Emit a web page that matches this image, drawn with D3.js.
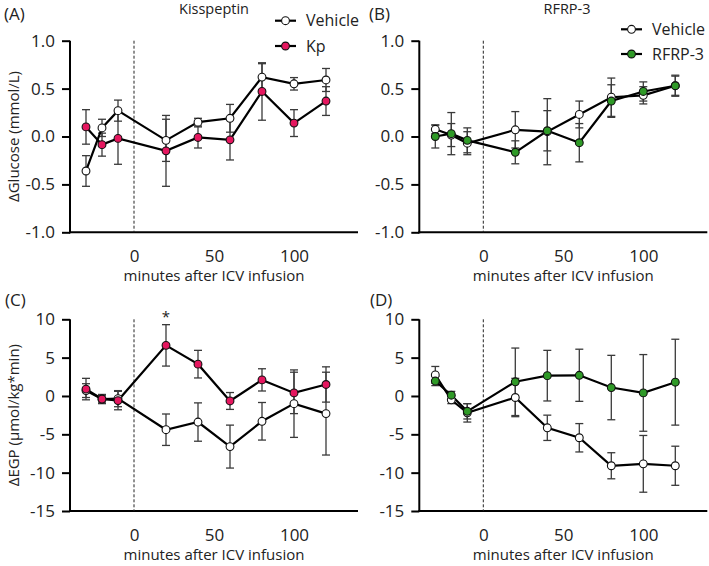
<!DOCTYPE html>
<html>
<head>
<meta charset="utf-8">
<script src="https://cdn.jsdelivr.net/npm/d3@7"></script>
<style>
  html, body { margin: 0; padding: 0; background: #fff; }
  svg { display: block; font-family: "Open Sans", "Noto Sans", sans-serif; }
</style>
</head>
<body>
<svg id="chart" width="709" height="566"></svg>
<script>
// ---------- data ----------
const times = [-30, -20, -10, 20, 40, 60, 80, 100, 120];

// (A) Kisspeptin – ΔGlucose (mmol/L)
const vehicleGlucoseA    = [-0.36, 0.09, 0.27, -0.04, 0.15, 0.19, 0.62, 0.55, 0.59];
const vehicleGlucoseAErr = [0.16, 0.09, 0.11, 0.22, 0.04, 0.145, 0.14, 0.065, 0.12];
const kpGlucose          = [0.10, -0.085, -0.02, -0.15, -0.01, -0.035, 0.47, 0.14, 0.37];
const kpGlucoseErr       = [0.18, 0.12, 0.27, 0.37, 0.11, 0.21, 0.30, 0.14, 0.15];

// (B) RFRP-3 – ΔGlucose (mmol/L)
const vehicleGlucoseB    = [0.075, 0.015, -0.07, 0.07, 0.05, 0.23, 0.41, 0.43, 0.53];
const vehicleGlucoseBErr = [0.045, 0.12, 0.12, 0.19, 0.345, 0.14, 0.20, 0.09, 0.11];
const rfrpGlucose        = [0.0, 0.03, -0.04, -0.165, 0.06, -0.065, 0.37, 0.47, 0.53];
const rfrpGlucoseErr     = [0.12, 0.22, 0.13, 0.12, 0.21, 0.20, 0.17, 0.10, 0.10];

// (C) Kisspeptin – ΔEGP (µmol/kg*min)
const vehicleEgpC    = [0.7, -0.4, -0.35, -4.4, -3.4, -6.6, -3.3, -1.0, -2.3];
const vehicleEgpCErr = [0.9, 0.6, 1.05, 2.05, 2.5, 2.8, 2.45, 4.4, 5.4];
const kpEgp          = [0.9, -0.4, -0.6, 6.6, 4.15, -0.65, 2.1, 0.4, 1.5];
const kpEgpErr       = [1.4, 0.5, 1.2, 2.7, 1.8, 1.1, 1.45, 2.7, 2.3];

// (D) RFRP-3 – ΔEGP (µmol/kg*min)
const vehicleEgpD    = [2.75, -0.5, -2.2, -0.2, -4.15, -5.45, -9.1, -8.85, -9.1];
const vehicleEgpDErr = [1.1, 0.5, 1.2, 2.5, 1.65, 1.85, 1.7, 3.7, 2.55];
const rfrpEgp        = [1.95, 0.1, -2.0, 1.85, 2.65, 2.7, 1.1, 0.4, 1.8];
const rfrpEgpErr     = [0.6, 0.5, 1.0, 4.4, 3.3, 3.4, 4.2, 5.0, 5.6];

const xTicks = [0, 50, 100];
const glucoseTicks = [-1.0, -0.5, 0.0, 0.5, 1.0];
const egpTicks = [-15, -10, -5, 0, 5, 10];

const KP_COLOR = "#e5175f";
const RFRP_COLOR = "#2f9a27";

// ---------- drawing ----------
const svg = d3.select("#chart");

function drawPanel(opt) {
  const g = svg.append("g");
  const x = d3.scaleLinear().domain([-40, 140]).range([opt.left, opt.left + 288]);
  const y = d3.scaleLinear().domain(opt.yDomain).range([opt.bottom, opt.top]);

  // y axis
  const yAxis = d3.axisLeft(y).tickValues(opt.yTicks).tickSize(8).tickPadding(7)
    .tickFormat(opt.yFormat);
  const ya = g.append("g").attr("transform", `translate(${opt.left},0)`).call(yAxis);
  ya.select(".domain").attr("stroke", "#000").attr("stroke-width", 2)
    .attr("d", `M0,${opt.top}V${opt.bottom + 1}`);
  ya.selectAll(".tick line").attr("stroke", "#000").attr("stroke-width", 2);
  ya.selectAll(".tick text").attr("font-size", 17).attr("fill", "#222")
    .attr("font-family", "Open Sans");

  // x axis
  const xAxis = d3.axisBottom(x).tickValues(xTicks).tickSize(0).tickPadding(18);
  const xa = g.append("g").attr("transform", `translate(0,${opt.bottom})`).call(xAxis);
  xa.select(".domain").attr("stroke", "#000").attr("stroke-width", 2)
    .attr("d", `M${opt.left - 1},0H${opt.left + 288}`);
  xa.selectAll(".tick text").attr("font-size", 17).attr("fill", "#222")
    .attr("font-family", "Open Sans");

  // x title
  g.append("text").attr("x", x(50)).attr("y", opt.bottom + 49)
    .attr("text-anchor", "middle").attr("font-size", 15).attr("fill", "#222")
    .text("minutes after ICV infusion");

  // dashed line at 0
  g.append("line").attr("x1", x(0)).attr("x2", x(0))
    .attr("y1", opt.top).attr("y2", opt.bottom)
    .attr("stroke", "#222").attr("stroke-width", 1).attr("stroke-dasharray", "3,2");

  const series = [
    { vals: opt.veh, errs: opt.vehErr, fill: "#fff" },
    { vals: opt.trt, errs: opt.trtErr, fill: opt.color }
  ];

  // error bars
  series.forEach(s => {
    const eg = g.append("g").attr("stroke", "#3a3a3a").attr("stroke-width", 1.3);
    times.forEach((t, i) => {
      const cx = x(t), hi = y(s.vals[i] + s.errs[i]), lo = y(s.vals[i] - s.errs[i]);
      eg.append("line").attr("x1", cx).attr("x2", cx).attr("y1", hi).attr("y2", lo);
      eg.append("line").attr("x1", cx - 4).attr("x2", cx + 4).attr("y1", hi).attr("y2", hi);
      eg.append("line").attr("x1", cx - 4).attr("x2", cx + 4).attr("y1", lo).attr("y2", lo);
    });
  });

  // lines
  const line = d3.line().x((d, i) => x(times[i])).y(d => y(d));
  series.forEach(s => {
    g.append("path").datum(s.vals).attr("d", line)
      .attr("fill", "none").attr("stroke", "#000").attr("stroke-width", 2.2)
      .attr("stroke-linejoin", "miter");
  });

  // markers
  series.forEach(s => {
    g.selectAll(null).data(s.vals).enter().append("circle")
      .attr("cx", (d, i) => x(times[i])).attr("cy", d => y(d)).attr("r", 3.9)
      .attr("fill", s.fill).attr("stroke", "#111").attr("stroke-width", 1.1);
  });

  // panel label
  g.append("text").attr("x", opt.labelX).attr("y", opt.labelY)
    .attr("font-size", 17).attr("fill", "#222").text(opt.label);

  // title
  if (opt.title) {
    g.append("text").attr("x", opt.titleX).attr("y", 14)
      .attr("text-anchor", "middle").attr("font-size", 14.5).attr("fill", "#222")
      .text(opt.title);
  }

  // legend
  if (opt.legend) {
    const L = opt.legend;
    const items = [
      { name: "Vehicle", fill: "#fff", y: L.y1 },
      { name: opt.trtName, fill: opt.color, y: L.y2 }
    ];
    items.forEach(it => {
      g.append("line").attr("x1", L.x).attr("x2", L.x + 21)
        .attr("y1", it.y).attr("y2", it.y).attr("stroke", "#000").attr("stroke-width", 2.2);
      g.append("circle").attr("cx", L.x + 10.5).attr("cy", it.y).attr("r", 3.9)
        .attr("fill", it.fill).attr("stroke", "#111").attr("stroke-width", 1.1);
      g.append("text").attr("x", L.x + 31).attr("y", it.y).attr("dy", "0.35em")
        .attr("font-size", 16).attr("fill", "#222").text(it.name);
    });
  }

  // star
  if (opt.star) {
    g.append("text").attr("x", x(opt.star)).attr("y", opt.top + 3)
      .attr("text-anchor", "middle").attr("font-size", 15).attr("fill", "#222").text("*");
  }

  // y title
  if (opt.yTitle) {
    g.append("text")
      .attr("transform", `translate(19,${(opt.top + opt.bottom) / 2}) rotate(-90)`)
      .attr("text-anchor", "middle").attr("font-size", 15).attr("fill", "#222")
      .text(opt.yTitle);
  }
}

const fmt1 = d => d.toFixed(1);
const fmt0 = d => String(d);

drawPanel({
  left: 70, top: 40.7, bottom: 232.3, yDomain: [-1, 1], yTicks: glucoseTicks, yFormat: fmt1,
  veh: vehicleGlucoseA, vehErr: vehicleGlucoseAErr, trt: kpGlucose, trtErr: kpGlucoseErr,
  color: KP_COLOR, trtName: "Kp", label: "(A)", labelX: 4, labelY: 20,
  title: "Kisspeptin", titleX: 214, legend: { x: 275, y1: 20.7, y2: 46 },
  yTitle: "ΔGlucose (mmol/L)"
});
drawPanel({
  left: 419.3, top: 40.7, bottom: 232.3, yDomain: [-1, 1], yTicks: glucoseTicks, yFormat: fmt1,
  veh: vehicleGlucoseB, vehErr: vehicleGlucoseBErr, trt: rfrpGlucose, trtErr: rfrpGlucoseErr,
  color: RFRP_COLOR, trtName: "RFRP-3", label: "(B)", labelX: 369, labelY: 20,
  title: "RFRP-3", titleX: 567, legend: { x: 621, y1: 29.3, y2: 54 }
});
drawPanel({
  left: 70, top: 319.3, bottom: 511, yDomain: [-15, 10], yTicks: egpTicks, yFormat: fmt0,
  veh: vehicleEgpC, vehErr: vehicleEgpCErr, trt: kpEgp, trtErr: kpEgpErr,
  color: KP_COLOR, trtName: "Kp", label: "(C)", labelX: 5, labelY: 306,
  star: 20, yTitle: "ΔEGP (μmol/kg*min)"
});
drawPanel({
  left: 419.3, top: 319.3, bottom: 511, yDomain: [-15, 10], yTicks: egpTicks, yFormat: fmt0,
  veh: vehicleEgpD, vehErr: vehicleEgpDErr, trt: rfrpEgp, trtErr: rfrpEgpErr,
  color: RFRP_COLOR, trtName: "RFRP-3", label: "(D)", labelX: 370, labelY: 306
});
</script>
</body>
</html>
